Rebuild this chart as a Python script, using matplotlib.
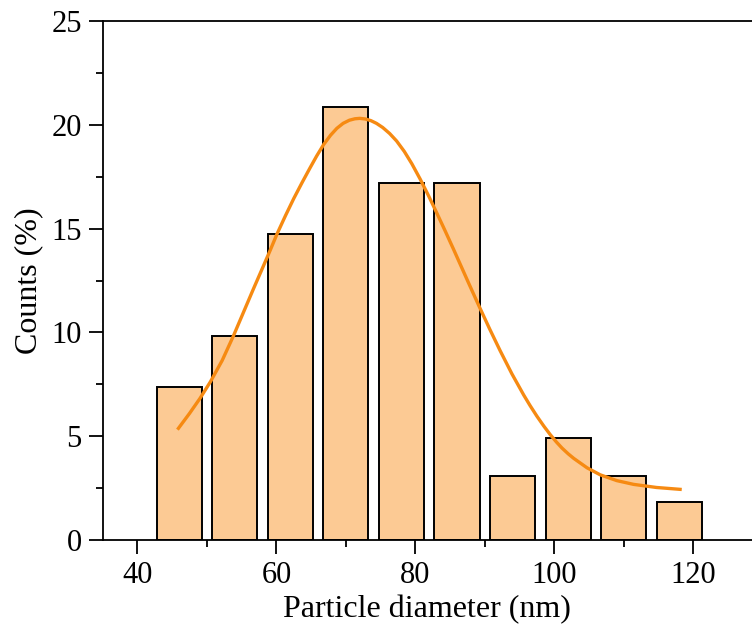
import numpy as np
import matplotlib.pyplot as plt
from matplotlib.ticker import MultipleLocator

# histogram bins (nm) and percentage counts
bin_centers = [46, 54, 62, 70, 78, 86, 94, 102, 110, 118]
counts_pct = [7.36, 9.82, 14.72, 20.86, 17.18, 17.18, 3.07, 4.91, 3.07, 1.84]

# fitted distribution curve
fit_x = [45.9, 47.5, 49.0, 50.5, 52.2, 53.8, 55.3, 56.7, 58.0, 59.1, 60.06,
         61.3, 62.5, 63.7, 64.8, 65.8, 66.8, 67.8, 68.7, 69.6, 70.5, 71.3,
         72.0, 72.8, 73.6, 74.4, 75.3, 76.3, 77.3, 78.4, 79.5, 80.7, 81.9,
         83.1, 84.3, 85.5, 86.5, 87.5, 88.4, 89.2, 90.7, 92.2, 93.9, 95.6,
         96.5, 97.5, 98.5, 99.4, 100.3, 101.1, 102.0, 102.8, 104.7, 106.6,
         109.0, 111.4, 114.7, 118.1]
fit_y = [5.38, 6.1, 6.82, 7.62, 8.65, 9.82, 11.0, 12.1, 13.1, 13.95, 14.72,
         15.62, 16.45, 17.22, 17.9, 18.5, 19.05, 19.5, 19.83, 20.07, 20.22,
         20.29, 20.31, 20.28, 20.2, 20.07, 19.87, 19.58, 19.22, 18.72, 18.12,
         17.38, 16.58, 15.74, 14.88, 14.0, 13.25, 12.5, 11.83, 11.24, 10.16,
         9.12, 8.0, 6.98, 6.48, 5.96, 5.48, 5.08, 4.72, 4.43, 4.15, 3.93,
         3.48, 3.14, 2.86, 2.68, 2.53, 2.44]

plt.rcParams['font.family'] = ['Liberation Serif', 'DejaVu Serif']

fig = plt.figure(figsize=(7.52, 6.35), dpi=100)
ax = fig.add_axes([102.7 / 752, 95 / 635, (752 - 102.7) / 752, 519 / 635])

ax.bar(bin_centers, counts_pct, width=6.5, color='#FCCA94',
       edgecolor='black', linewidth=1.4, zorder=2)
ax.plot(fit_x, fit_y, color='#F68A12', linewidth=2.4, zorder=3,
        solid_joinstyle='round')

ax.set_xlim(35, 128.45)
ax.set_ylim(0, 25)
ax.xaxis.set_major_locator(MultipleLocator(20))
ax.xaxis.set_minor_locator(MultipleLocator(10))
ax.yaxis.set_major_locator(MultipleLocator(5))
ax.yaxis.set_minor_locator(MultipleLocator(2.5))
ax.tick_params(which='major', direction='out', length=10, width=1.3,
               labelsize=22, pad=5)
ax.tick_params(which='minor', direction='out', length=5, width=1.3)
ax.spines['right'].set_visible(False)
for s in ['left', 'bottom', 'top']:
    ax.spines[s].set_linewidth(1.3)

ax.set_xlabel('Particle diameter (nm)', fontsize=23, labelpad=4)
ax.set_ylabel('Counts (%)', fontsize=23, labelpad=6)

fig.savefig('out.png', dpi=100)
